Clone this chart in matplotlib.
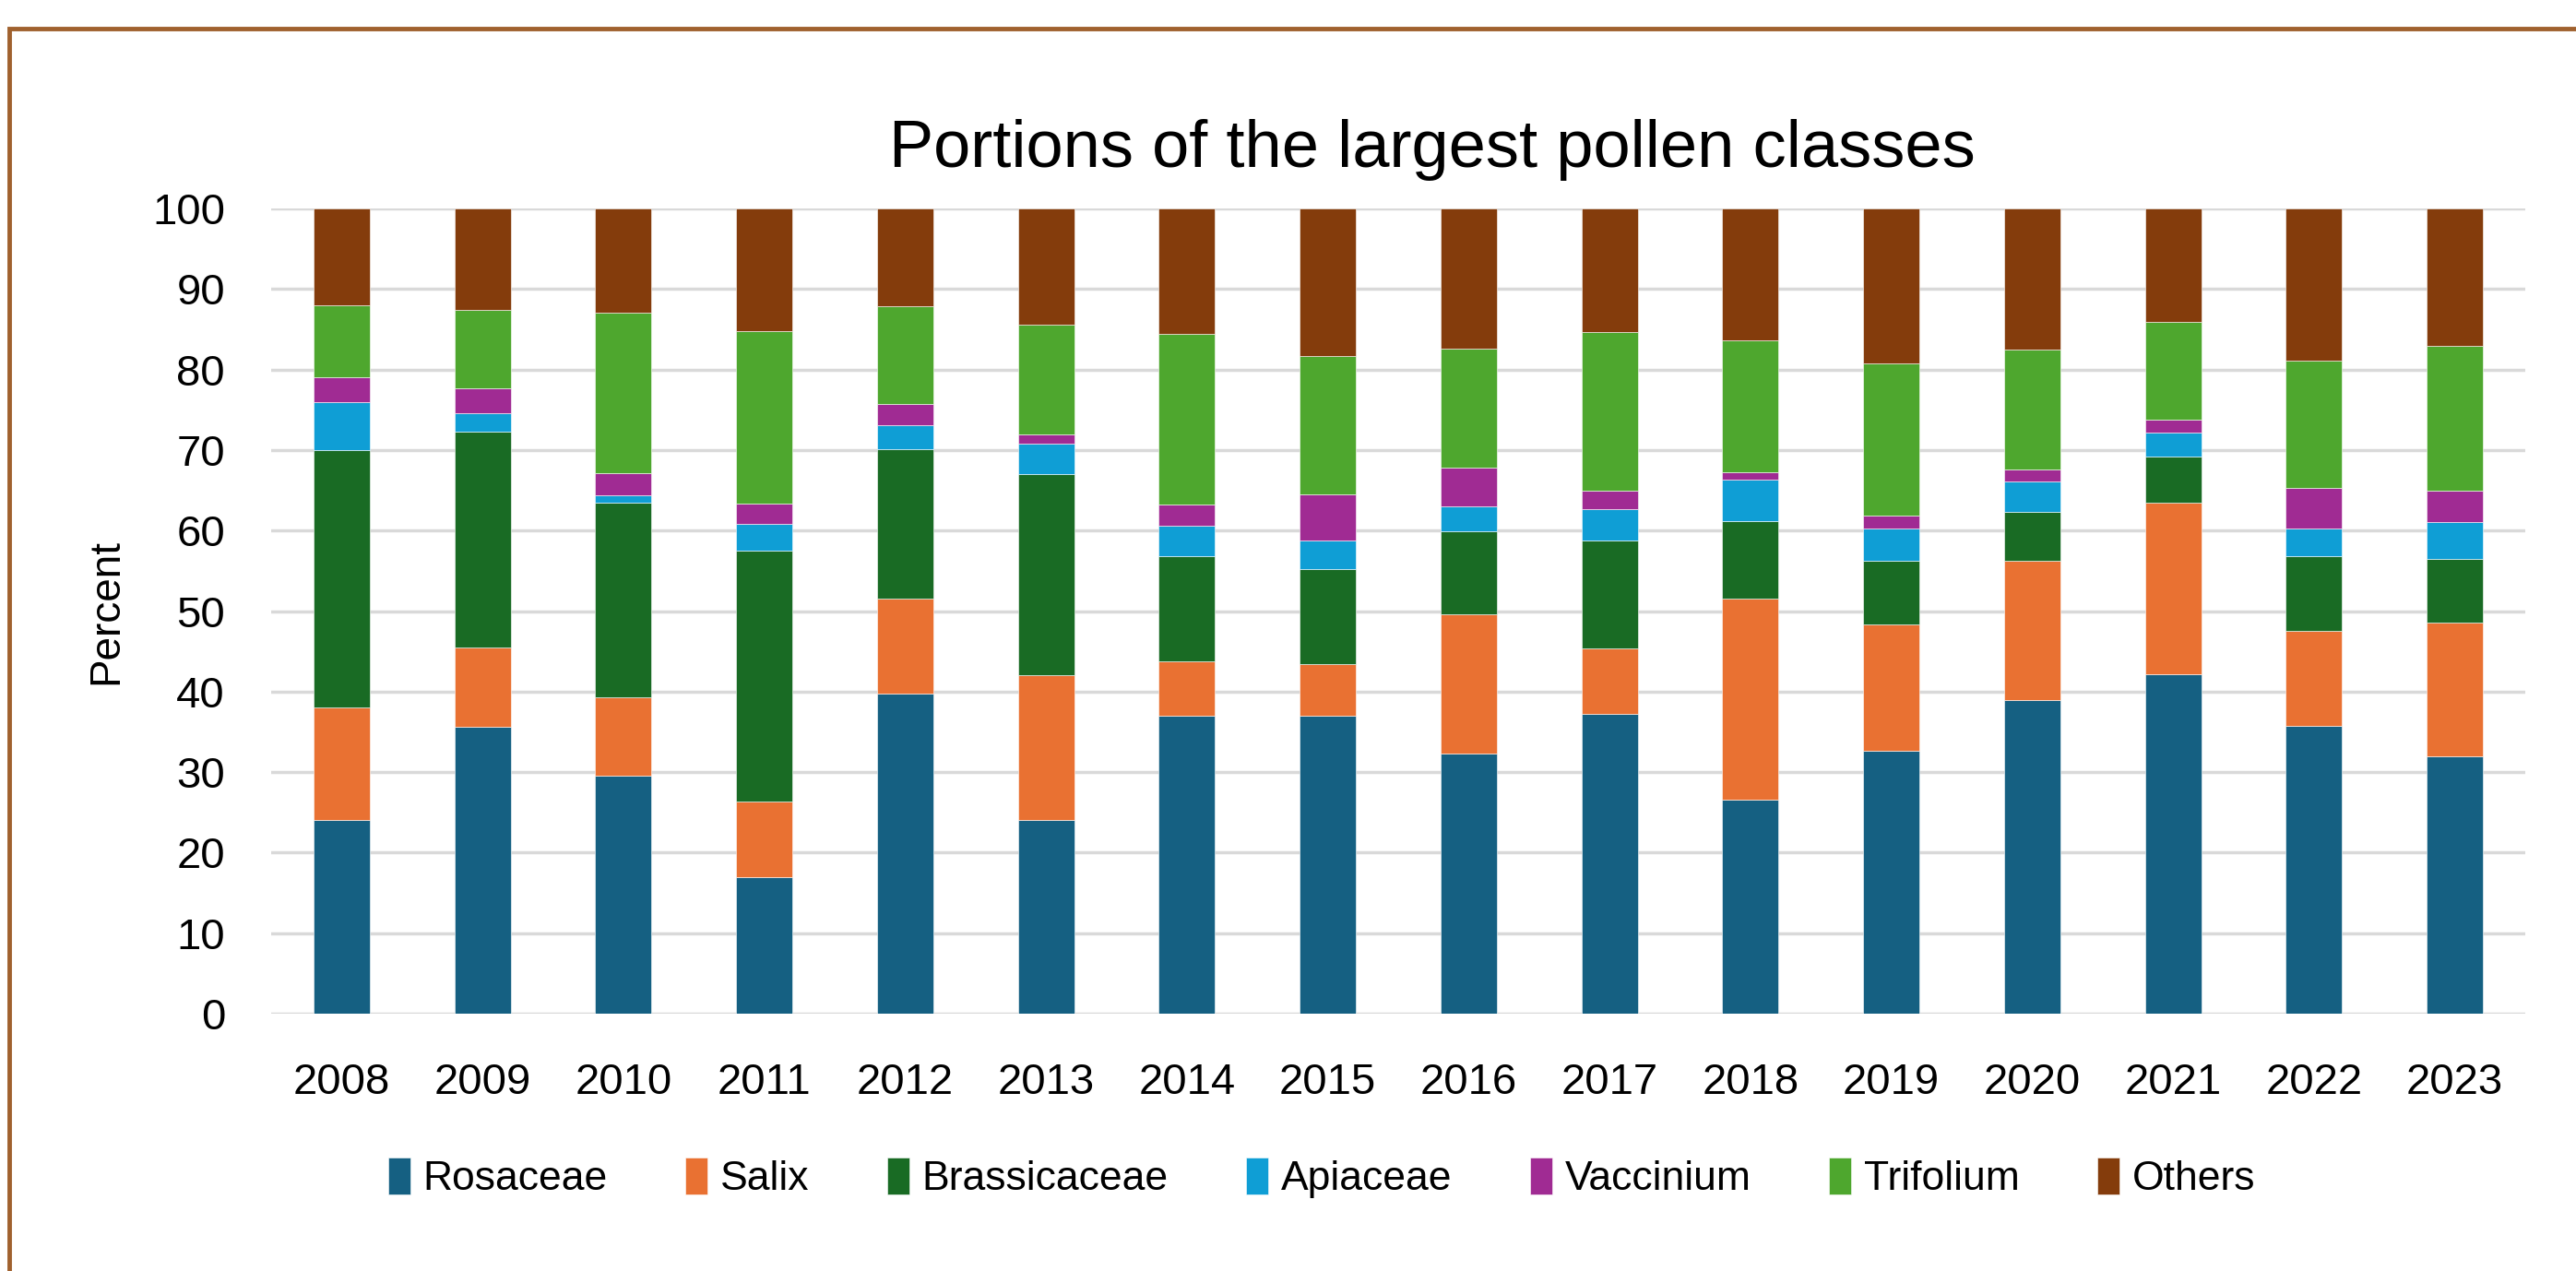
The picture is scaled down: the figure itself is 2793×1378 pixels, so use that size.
import matplotlib
matplotlib.use("Agg")
import matplotlib.pyplot as plt
from matplotlib.patches import Rectangle
import numpy as np

# Percent shares per year.
years = ["2008", "2009", "2010", "2011", "2012", "2013", "2014", "2015",
         "2016", "2017", "2018", "2019", "2020", "2021", "2022", "2023"]

rosaceae = [24.0, 35.6, 29.6, 16.9, 39.7, 24.0, 37.0, 37.0,
            32.3, 37.2, 26.6, 32.6, 39.0, 42.1, 35.7, 32.0]
salix = [14.0, 9.9, 9.7, 9.5, 11.9, 18.0, 6.8, 6.4,
         17.3, 8.2, 25.0, 15.7, 17.3, 21.4, 11.8, 16.6]
brassicaceae = [32.0, 26.8, 24.2, 31.1, 18.5, 25.0, 13.0, 11.8,
                10.3, 13.4, 9.6, 8.0, 6.0, 5.7, 9.3, 7.9]
apiaceae = [6.0, 2.3, 0.9, 3.3, 3.0, 3.8, 3.8, 3.6,
            3.1, 3.9, 5.1, 3.9, 3.8, 3.0, 3.5, 4.6]
vaccinium = [3.0, 3.1, 2.7, 2.5, 2.6, 1.1, 2.6, 5.7,
             4.8, 2.3, 0.9, 1.6, 1.5, 1.6, 5.0, 3.9]
trifolium = [9.0, 9.7, 19.9, 21.5, 12.2, 13.7, 21.2, 17.2,
             14.8, 19.6, 16.4, 18.9, 14.9, 12.1, 15.8, 17.9]
others = [12.0, 12.6, 13.0, 15.2, 12.1, 14.4, 15.6, 18.3,
          17.4, 15.4, 16.4, 19.3, 17.5, 14.1, 18.9, 17.1]

series_names = ["Rosaceae", "Salix", "Brassicaceae", "Apiaceae",
                "Vaccinium", "Trifolium", "Others"]
series_values = [rosaceae, salix, brassicaceae, apiaceae,
                 vaccinium, trifolium, others]
colors = ["#156082", "#E97132", "#196B24", "#0F9ED5",
          "#A02B93", "#4EA72E", "#843C0C"]

plt.rcParams["font.family"] = ["Liberation Sans", "DejaVu Sans"]

fig = plt.figure(figsize=(27.93, 13.78), dpi=100)
ax = fig.add_axes([294 / 2793, 1 - 1099 / 1378, (2738 - 294) / 2793, (1099 - 226) / 1378])

x = np.arange(len(years))
bottom = np.zeros(len(years))
for name, vals, col in zip(series_names, series_values, colors):
    vals = np.array(vals)
    ax.bar(x, vals, width=0.4, bottom=bottom, color=col, label=name,
           edgecolor="white", linewidth=0.4, zorder=3)
    bottom += vals

ax.set_xlim(-0.5, len(years) - 0.5)
ax.set_ylim(0, 100)
ax.set_yticks(range(0, 101, 10))
ax.set_xticks(x)
ax.set_xticklabels(years)
ax.tick_params(axis="both", length=0, labelsize=34, colors="black")
ax.tick_params(axis="x", pad=38)
ax.tick_params(axis="y", pad=36)
ax.yaxis.grid(True, color="#D9D9D9", linewidth=2.5, zorder=0)
for s in ax.spines.values():
    s.set_visible(False)
ax.set_ylabel("Percent", fontsize=33, labelpad=20)

fig.text(0.556, 0.882, "Portions of the largest pollen classes",
         ha="center", va="center", fontsize=52)

handles, labels = ax.get_legend_handles_labels()
fig.legend(handles, labels, loc="center", bbox_to_anchor=(0.513, 0.073),
           ncol=7, frameon=False, fontsize=32,
           handlelength=0.55, handleheight=1.0, handletextpad=0.3,
           columnspacing=1.9)

# brown outer frame of the chart area
fig.patches.append(Rectangle((10 / 2793, -0.01), 1.1, 1 - 31 / 1378 + 0.01,
                             transform=fig.transFigure, fill=False,
                             edgecolor="#A0612E", linewidth=3.5))

fig.savefig("out.png", dpi=100)
